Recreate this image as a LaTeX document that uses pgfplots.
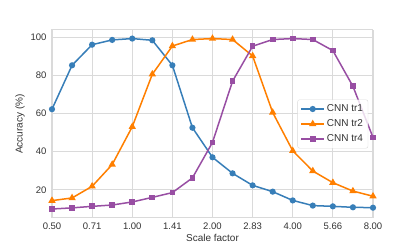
\documentclass[border=0pt]{standalone}
\usepackage{fontspec}
\setmainfont{Liberation Sans}
\usepackage{pgfplots}
\pgfplotsset{compat=1.18}
\definecolor{cA}{HTML}{377EB8}
\definecolor{cB}{HTML}{FF7F00}
\definecolor{cC}{HTML}{984EA3}
\definecolor{gridc}{HTML}{DADADA}
\definecolor{txt}{HTML}{333333}
\begin{document}
\fontsize{10}{12}\selectfont
\begin{tikzpicture}
\begin{axis}[
  name=ax,
  scale only axis, width=321pt, height=188pt,
  xmode=log, log basis x=2,
  xmin=0.5, xmax=8, ymin=5.2, ymax=103.7,
  xtick={0.5,0.7071,1,1.4142,2,2.8284,4,5.6569,8},
  xticklabels={0.50,0.71,1.00,1.41,2.00,2.83,4.00,5.66,8.00},
  ytick={20,40,60,80,100},
  /pgf/number format/assume math mode=true,
  tick style={draw=none},
  grid=major,
  major grid style={gridc, line width=0.9pt},
  axis line style={gridc, line width=1pt},
  ticklabel style={text=txt, font=\fontsize{9.5}{11}\selectfont},
  xticklabel style={yshift=-1pt},
  yticklabel style={xshift=-2pt},
  xlabel={Scale factor}, ylabel={Accuracy (\%)},
  label style={text=txt, font=\fontsize{10}{12}\selectfont},
  xlabel style={yshift=2pt},
  ylabel style={yshift=-1pt},
  legend style={at={(0.985,0.5)}, anchor=east, draw=gridc, rounded corners=2pt,
    fill=white, fill opacity=0.8, text opacity=1, font=\fontsize{10}{12}\selectfont,
    text=txt, row sep=2.5pt, inner sep=3pt},
  legend cell align=left,
  legend image code/.code={\draw[mark repeat=2,mark phase=2,#1] plot coordinates {(0cm,0cm) (0.4cm,0cm) (0.8cm,0cm)};},
  every axis plot/.append style={line width=1.5pt},
]
\addplot[cA, mark=*, mark size=2.3pt] coordinates {
(0.5,62.2) (0.5946,85.2) (0.7071,96.0) (0.8409,98.5) (1,99.2) (1.1892,98.3)
(1.4142,85.2) (1.6818,52.5) (2,37.0) (2.3784,28.6) (2.8284,22.3) (3.3636,19.0)
(4,14.4) (4.7568,11.7) (5.6569,11.3) (6.7272,10.8) (8,10.6)};
\addlegendentry{CNN tr1}
\addplot[cB, mark=triangle*, mark size=2.8pt] coordinates {
(0.5,14.3) (0.5946,15.7) (0.7071,21.8) (0.8409,33.2) (1,53.0) (1.1892,80.5)
(1.4142,95.3) (1.6818,98.7) (2,99.2) (2.3784,98.7) (2.8284,90.1) (3.3636,60.5)
(4,40.4) (4.7568,29.8) (5.6569,23.7) (6.7272,19.3) (8,16.6)};
\addlegendentry{CNN tr2}
\addplot[cC, mark=square*, mark size=2.1pt] coordinates {
(0.5,9.9) (0.5946,10.5) (0.7071,11.3) (0.8409,12.0) (1,13.6) (1.1892,16.0)
(1.4142,18.5) (1.6818,26.2) (2,44.8) (2.3784,76.9) (2.8284,95.2) (3.3636,98.7)
(4,99.2) (4.7568,98.7) (5.6569,92.9) (6.7272,74.2) (8,47.4)};
\addlegendentry{CNN tr4}
\end{axis}
\path (ax.south west) ++(-52pt,-31pt) rectangle ([shift={(42pt,30pt)}]ax.north east);
\end{tikzpicture}
\end{document}
